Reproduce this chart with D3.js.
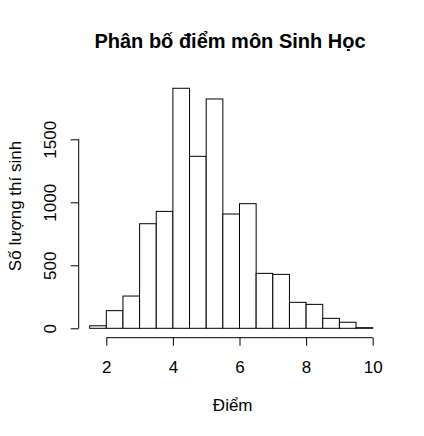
<!DOCTYPE html>
<html>
<head>
<meta charset="utf-8">
<script src="https://cdn.jsdelivr.net/npm/d3@7"></script>
<style>
  body { margin: 0; background: #fff; }
  svg text { font-family: "Liberation Sans", Arial, sans-serif; fill: #000; }
</style>
</head>
<body>
<div id="chart"></div>
<script>
// histogram bins (lower edges) and counts
var binStart = [1.5, 2, 2.5, 3, 3.5, 4, 4.5, 5, 5.5, 6, 6.5, 7, 7.5, 8, 8.5, 9, 9.5]
  , binWidth = 0.5
  , counts = [20, 140, 256, 830, 928, 1905, 1365, 1820, 907, 989, 436, 428, 206, 190, 79, 48, 5]
  , xTicks = [2, 4, 6, 8, 10]
  , yTicks = [0, 500, 1000, 1500]
  , title = "Phân bố điểm môn Sinh Học"
  , xLabel = "Điểm"
  , yLabel = "Số lượng thí sinh"
;

var width = 424, height = 436;

var svg = d3.select("#chart").append("svg")
    .attr("width", width)
    .attr("height", height);

var x = d3.scaleLinear().domain([2, 10]).range([106.3, 372.7])
  , y = d3.scaleLinear().domain([0, 1500]).range([328.3, 139.3])
;

// bars
svg.append("g")
    .selectAll("rect")
    .data(binStart)
  .enter().append("rect")
    .attr("x", function(d) { return x(d); })
    .attr("y", function(d, i) { return y(counts[i]); })
    .attr("width", function(d) { return x(d + binWidth) - x(d); })
    .attr("height", function(d, i) { return y(0) - y(counts[i]); })
    .attr("fill", "#fff")
    .attr("stroke", "#000")
    .attr("stroke-width", 1);

// x axis
var xAxis = d3.axisBottom(x)
    .tickValues(xTicks)
    .tickFormat(d3.format("d"))
    .tickSize(8)
    .tickPadding(15.5)
    .tickSizeOuter(0);
var gx = svg.append("g")
    .attr("transform", "translate(0,337.7)")
    .call(xAxis);
gx.select(".domain").attr("d", "M" + x(2) + ",0H" + x(10));
gx.selectAll("text").style("font-size", "17px");

// y axis
var yAxis = d3.axisLeft(y)
    .tickValues(yTicks)
    .tickFormat(d3.format("d"))
    .tickSize(8)
    .tickSizeOuter(0);
var gy = svg.append("g")
    .attr("transform", "translate(78.7,0)")
    .call(yAxis);
gy.select(".domain").attr("d", "M0," + y(0) + "V" + y(1500));
gy.selectAll(".tick text")
    .attr("x", 0)
    .attr("dy", 0)
    .attr("transform", "translate(-22.7,0) rotate(-90)")
    .attr("text-anchor", "middle")
    .style("font-size", "17px");

svg.selectAll(".domain, .tick line").attr("stroke", "#000");

// labels
svg.append("text")
    .attr("x", 230)
    .attr("y", 47.5)
    .attr("text-anchor", "middle")
    .style("font-size", "20px")
    .style("font-weight", "bold")
    .text(title);

svg.append("text")
    .attr("x", 232.7)
    .attr("y", 411)
    .attr("text-anchor", "middle")
    .style("font-size", "17px")
    .text(xLabel);

svg.append("text")
    .attr("transform", "translate(20.7,206) rotate(-90)")
    .attr("text-anchor", "middle")
    .style("font-size", "17px")
    .text(yLabel);
</script>
</body>
</html>
